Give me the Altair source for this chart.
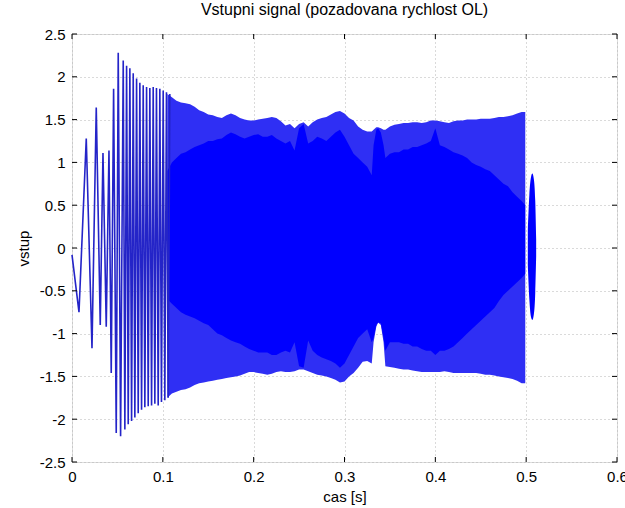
import altair as alt
import pandas as pd

# ---- early part: individual oscillations (time of extremum [s], value) ----
peak_t = [0.0, 0.0077, 0.0157, 0.0220, 0.0267, 0.0311, 0.0341, 0.0377, 0.0407, 0.0432,
          0.0458, 0.0487, 0.0509, 0.0535, 0.0564, 0.0582, 0.0601, 0.0619, 0.0637, 0.0656,
          0.0674, 0.0692, 0.0711, 0.0729, 0.0747, 0.0766, 0.0784, 0.0802, 0.0821, 0.0839,
          0.0857, 0.0876, 0.0894, 0.0912, 0.0930, 0.0949, 0.0967, 0.0985, 0.1004, 0.1022,
          0.1040, 0.1059, 0.1077]
peak_v = [-0.08, -0.75, 1.28, -1.17, 1.64, -0.90, 1.11, -0.92, 1.14, -1.46,
          1.86, -2.16, 2.28, -2.20, 2.19, -2.12, 2.13, -2.06, 2.10, -2.02,
          2.04, -1.98, 1.98, -1.93, 1.93, -1.89, 1.90, -1.86, 1.88, -1.85,
          1.87, -1.84, 1.88, -1.82, 1.87, -1.84, 1.86, -1.80, 1.84, -1.78,
          1.82, -1.75, 1.80]

# ---- dense part: envelopes ----
env_t = [0.105, 0.110, 0.115, 0.120, 0.125, 0.130, 0.135, 0.140, 0.145, 0.150,
         0.155, 0.160, 0.165, 0.170, 0.175, 0.180, 0.185, 0.190, 0.195, 0.200,
         0.205, 0.210, 0.215, 0.220, 0.225, 0.230, 0.235, 0.240, 0.245, 0.250,
         0.255, 0.260, 0.265, 0.270, 0.275, 0.280, 0.285, 0.290, 0.295, 0.300,
         0.305, 0.310, 0.315, 0.320, 0.325, 0.330, 0.332, 0.335, 0.337, 0.340,
         0.343, 0.345, 0.350, 0.355, 0.360, 0.365, 0.370, 0.375, 0.380, 0.385,
         0.390, 0.395, 0.400, 0.405, 0.410, 0.415, 0.420, 0.425, 0.430, 0.435,
         0.440, 0.445, 0.450, 0.455, 0.460, 0.465, 0.470, 0.475, 0.480, 0.485,
         0.490, 0.495, 0.499]
outer_hi = [1.80, 1.76, 1.72, 1.70, 1.69, 1.68, 1.65, 1.61, 1.59, 1.56,
            1.55, 1.53, 1.52, 1.55, 1.57, 1.55, 1.52, 1.50, 1.49, 1.49,
            1.50, 1.51, 1.52, 1.53, 1.52, 1.48, 1.43, 1.45, 1.40, 1.45,
            1.47, 1.42, 1.47, 1.50, 1.52, 1.53, 1.56, 1.59, 1.60, 1.57,
            1.52, 1.49, 1.42, 1.38, 1.36, 1.36, 1.38, 1.41, 1.41, 1.40,
            1.38, 1.38, 1.42, 1.44, 1.45, 1.46, 1.46, 1.47, 1.47, 1.46,
            1.47, 1.49, 1.49, 1.48, 1.47, 1.46, 1.48, 1.49, 1.49, 1.50,
            1.50, 1.50, 1.51, 1.51, 1.51, 1.52, 1.53, 1.53, 1.54, 1.55,
            1.57, 1.59, 1.59]
outer_lo = [-1.75, -1.70, -1.68, -1.66, -1.65, -1.63, -1.60, -1.58, -1.57, -1.56,
            -1.55, -1.54, -1.53, -1.52, -1.51, -1.50, -1.49, -1.47, -1.45, -1.45,
            -1.46, -1.47, -1.48, -1.47, -1.45, -1.44, -1.45, -1.45, -1.44, -1.42,
            -1.42, -1.44, -1.46, -1.48, -1.49, -1.50, -1.52, -1.54, -1.57, -1.56,
            -1.50, -1.46, -1.40, -1.33, -1.32, -1.35, -1.10, -0.92, -0.87, -0.90,
            -1.10, -1.38, -1.39, -1.40, -1.41, -1.42, -1.42, -1.43, -1.44, -1.45,
            -1.45, -1.45, -1.45, -1.45, -1.44, -1.45, -1.46, -1.46, -1.46, -1.46,
            -1.46, -1.46, -1.47, -1.48, -1.48, -1.49, -1.50, -1.51, -1.52, -1.53,
            -1.55, -1.58, -1.58]
core_hi = [0.90, 1.00, 1.05, 1.10, 1.12, 1.15, 1.18, 1.20, 1.22, 1.25,
           1.25, 1.27, 1.28, 1.32, 1.35, 1.33, 1.30, 1.28, 1.30, 1.32,
           1.33, 1.30, 1.30, 1.32, 1.28, 1.25, 1.22, 1.25, 1.14, 1.40,
           1.45, 1.22, 1.25, 1.30, 1.28, 1.25, 1.30, 1.35, 1.38, 1.30,
           1.20, 1.10, 1.05, 1.00, 0.95, 0.85, 1.20, 1.38, 1.40, 1.35,
           1.20, 1.05, 1.10, 1.12, 1.12, 1.15, 1.15, 1.18, 1.18, 1.20,
           1.22, 1.25, 1.40, 1.20, 1.18, 1.15, 1.12, 1.10, 1.08, 1.05,
           1.00, 0.97, 0.95, 0.92, 0.90, 0.85, 0.80, 0.75, 0.72, 0.65,
           0.60, 0.55, 0.50]
core_lo = [-0.60, -0.65, -0.70, -0.75, -0.78, -0.80, -0.82, -0.85, -0.88, -0.90,
           -0.95, -1.00, -1.02, -1.05, -1.08, -1.10, -1.12, -1.15, -1.18, -1.20,
           -1.22, -1.22, -1.22, -1.25, -1.25, -1.22, -1.20, -1.22, -1.10, -1.38,
           -1.40, -1.08, -1.20, -1.25, -1.28, -1.30, -1.32, -1.35, -1.40, -1.35,
           -1.25, -1.15, -1.05, -1.00, -0.95, -1.10, -1.05, -0.90, -0.87, -0.88,
           -1.05, -1.20, -1.10, -1.10, -1.10, -1.12, -1.12, -1.15, -1.15, -1.18,
           -1.20, -1.20, -1.25, -1.20, -1.20, -1.18, -1.15, -1.10, -1.05, -1.00,
           -0.95, -0.90, -0.85, -0.80, -0.75, -0.70, -0.62, -0.55, -0.50, -0.45,
           -0.40, -0.35, -0.30]

# ---- final short burst at the end ----
lobe_t = [0.5018, 0.5035, 0.5052, 0.5068, 0.5085, 0.5100, 0.5110]
lobe_hi = [0.20, 0.62, 0.82, 0.87, 0.80, 0.55, 0.10]
lobe_lo = [-0.20, -0.60, -0.80, -0.84, -0.77, -0.52, -0.10]

x_ticks = [0, 0.1, 0.2, 0.3, 0.4, 0.5, 0.6]
y_ticks = [-2.5, -2, -1.5, -1, -0.5, 0, 0.5, 1, 1.5, 2, 2.5]

W, H = 545, 428
FONT = "Liberation Sans"

xscale = alt.Scale(domain=[0, 0.6], nice=False, zero=False)
yscale = alt.Scale(domain=[-2.5, 2.5], nice=False, zero=False)
axis_common = dict(grid=True, gridDash=[1, 3], gridColor="#b4b4b4", gridWidth=1,
                   tickSize=0, domain=False, labelFont=FONT, labelFontSize=15,
                   labelColor="black", labelFlush=False, labelOverlap=False,
                   labelPadding=7, titleFont=FONT, titleFontSize=15,
                   titleFontWeight="normal", titleColor="black",
                   labelExpr="'' + datum.value")
xaxis = alt.Axis(values=x_ticks, titlePadding=5, **axis_common)
yaxis = alt.Axis(values=y_ticks, titlePadding=8, **axis_common)

X = lambda f: alt.X(f, type="quantitative", scale=xscale, axis=xaxis, title="cas [s]")
Y = lambda f: alt.Y(f, type="quantitative", scale=yscale, axis=yaxis, title="vstup")

env = pd.DataFrame({"t": env_t, "ohi": outer_hi, "olo": outer_lo,
                    "chi": core_hi, "clo": core_lo})
lobe = pd.DataFrame({"t": lobe_t, "hi": lobe_hi, "lo": lobe_lo})
peaks = pd.DataFrame({"t": peak_t, "v": peak_v})
xt = pd.DataFrame({"t": x_ticks})
yt = pd.DataFrame({"v": y_ticks})

band = alt.Chart(env).mark_area(color="#2f2ff4", interpolate="linear").encode(
    x=X("t"), y=Y("ohi"), y2="olo")
core = alt.Chart(env).mark_area(color="#0000ff", interpolate="linear").encode(
    x=X("t"), y=Y("chi"), y2="clo")
burst = alt.Chart(lobe).mark_area(color="#0000ff", interpolate="monotone").encode(
    x=X("t"), y=Y("hi"), y2="lo")
early = alt.Chart(peaks).mark_line(color="#2424c8", strokeWidth=1.6).encode(
    x=X("t"), y=Y("v"))

tick_style = dict(color="black", strokeWidth=1)
xt_bot = alt.Chart(xt).mark_rule(**tick_style).encode(
    x=X("t"), y=alt.value(H), y2=alt.value(H - 5))
xt_top = alt.Chart(xt).mark_rule(**tick_style).encode(
    x=X("t"), y=alt.value(0), y2=alt.value(5))
yt_left = alt.Chart(yt).mark_rule(**tick_style).encode(
    y=Y("v"), x=alt.value(0), x2=alt.value(5))
yt_right = alt.Chart(yt).mark_rule(**tick_style).encode(
    y=Y("v"), x=alt.value(W), x2=alt.value(W - 5))

chart = alt.layer(band, core, burst, early, xt_bot, xt_top, yt_left, yt_right).properties(
    width=W, height=H,
    title=alt.TitleParams("Vstupni signal (pozadovana rychlost OL)", font=FONT,
                          fontSize=16, fontWeight="normal", color="black",
                          offset=9, anchor="middle", frame="group"),
    autosize=alt.AutoSizeParams(type="none"),
    padding={"left": 72, "top": 34, "right": 8, "bottom": 46},
).configure_view(stroke="black", strokeWidth=1).configure(background="white")

chart.save("out.html", embed_options={"renderer": "svg", "actions": False})
